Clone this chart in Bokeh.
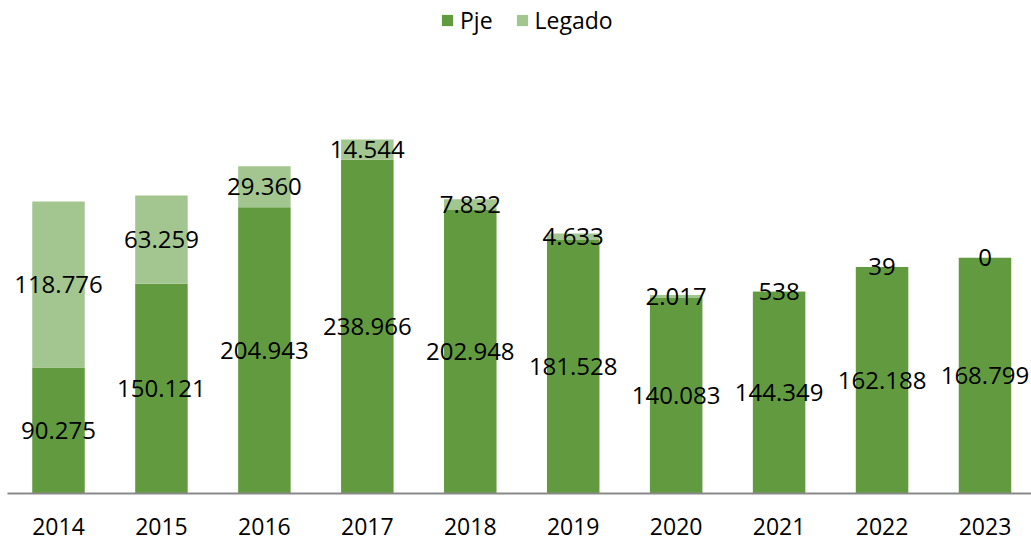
from bokeh.plotting import figure
from bokeh.models import ColumnDataSource, Range1d, Legend, LegendItem, FixedTicker
from bokeh.core.properties import value
from bokeh.embed import file_html
from bokeh.resources import INLINE

years = ["2014", "2015", "2016", "2017", "2018", "2019", "2020", "2021", "2022", "2023"]
pje = [90275, 150121, 204943, 238966, 202948, 181528, 140083, 144349, 162188, 168799]
legado = [118776, 63259, 29360, 14544, 7832, 4633, 2017, 538, 39, 0]

FONT = "Open Sans"
C_PJE = "#629B3F"
C_LEG = "#A3C690"

def fmt(v):
    return f"{v:,}".replace(",", ".")

x = list(range(len(years)))
src = ColumnDataSource(dict(
    x=x, pje=pje, legado=legado,
    top_total=[a + b for a, b in zip(pje, legado)],
    y_pje=[a / 2 for a in pje],
    y_leg=[a + b / 2 for a, b in zip(pje, legado)],
    t_pje=[fmt(v) for v in pje],
    t_leg=[fmt(v) for v in legado],
))

p = figure(width=1031, height=543, output_backend="svg", toolbar_location=None,
           x_range=Range1d(-0.4954, 9.4517), y_range=Range1d(0, 353050),
           min_border_left=7, min_border_right=0, min_border_top=0, min_border_bottom=50)
p.outline_line_color = None
p.grid.visible = False
p.yaxis.visible = False

r1 = p.vbar(x="x", bottom=0, top="pje", width=0.51, source=src, fill_color=C_PJE, line_color=None)
r2 = p.vbar(x="x", bottom="pje", top="top_total", width=0.51, source=src, fill_color=C_LEG, line_color=None)

for yf, tf in (("y_pje", "t_pje"), ("y_leg", "t_leg")):
    p.text(x="x", y=yf, text=tf, source=src, text_align="center", text_baseline="middle",
           text_font=value(FONT), text_font_size="24px", text_color="#000000")

ax = p.xaxis[0]
ax.ticker = FixedTicker(ticks=x)
ax.major_label_overrides = {i: y for i, y in enumerate(years)}
ax.major_tick_line_color = None
ax.minor_tick_line_color = None
ax.major_tick_out = 0
ax.major_tick_in = 0
ax.axis_line_color = "#898989"
ax.axis_line_width = 2
ax.major_label_standoff = 24
ax.major_label_text_font = FONT
ax.major_label_text_font_size = "23px"
ax.major_label_text_color = "#000000"

legend = Legend(items=[LegendItem(label="Pje", renderers=[r1]), LegendItem(label="Legado", renderers=[r2])],
                orientation="horizontal", location=(433, 457))
legend.border_line_color = None
legend.background_fill_alpha = 0
legend.margin = 0
legend.padding = 0
legend.spacing = 22
legend.glyph_width = 14
legend.glyph_height = 14
legend.label_standoff = 6
legend.label_text_font = FONT
legend.label_text_font_size = "23px"
legend.label_text_color = "#000000"
p.add_layout(legend, "center")

open("out.html", "w").write(file_html(p, INLINE))
